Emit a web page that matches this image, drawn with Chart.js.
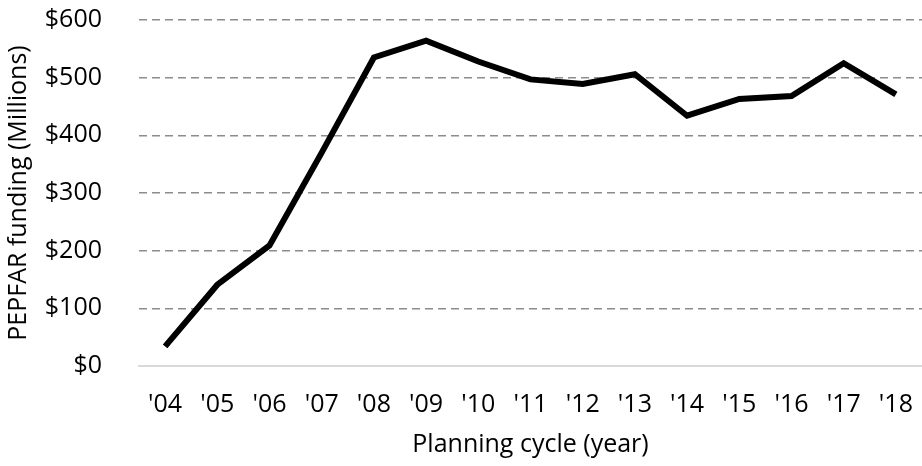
<!DOCTYPE html>
<html>
<head>
<meta charset="utf-8">
<script src="https://cdn.jsdelivr.net/npm/chart.js@4"></script>
<style>
  html, body { margin: 0; padding: 0; background: #fff; }
  #wrap { width: 922px; height: 466px; }
</style>
</head>
<body>
<div id="wrap"><canvas id="fundingChart"></canvas></div>
<script>
// Planning cycles and PEPFAR funding (millions of dollars)
const years = ["'04", "'05", "'06", "'07", "'08", "'09", "'10", "'11", "'12", "'13", "'14", "'15", "'16", "'17", "'18"];
const funding = [34, 141, 209, 370, 535, 564, 528, 497, 489, 506, 434, 463, 468, 525, 471];
const yTicks = [0, 100, 200, 300, 400, 500, 600];

const fontFamily = "'Open Sans', sans-serif";
const tickFont = { family: fontFamily, size: 25 };

new Chart(document.getElementById('fundingChart').getContext('2d'), {
    type: 'line',
    data: {
        labels: years,
        datasets: [{
            label: 'PEPFAR funding',
            data: funding,
            borderColor: '#000000',
            borderWidth: 6,
            pointRadius: 0,
            tension: 0,
            fill: false
        }]
    },
    options: {
        responsive: true,
        maintainAspectRatio: false,
        animation: false,
        layout: { padding: { top: 20, right: 0, left: 0, bottom: 0 } },
        plugins: {
            legend: { display: false },
            tooltip: { enabled: false }
        },
        scales: {
            x: {
                offset: true,
                grid: { display: false, drawTicks: false },
                border: { display: true, color: '#d9d9d9', width: 2 },
                ticks: { color: '#000', font: tickFont, padding: 24, maxRotation: 0, autoSkip: false },
                title: {
                    display: true,
                    text: 'Planning cycle (year)',
                    color: '#000',
                    font: tickFont,
                    padding: { top: 0, bottom: 6 }
                },
                afterFit: (scale) => {
                    scale.height = 100;
                    scale.paddingLeft = 0;
                    scale.paddingRight = 0;
                }
            },
            y: {
                min: 0,
                max: 600,
                afterBuildTicks: (scale) => { scale.ticks = yTicks.map(v => ({ value: v })); },
                grid: {
                    drawTicks: false,
                    color: (ctx) => ctx.tick && ctx.tick.value === 0 ? 'rgba(0,0,0,0)' : '#8c8c8c',
                    lineWidth: 1.5
                },
                border: { display: false, dash: [8, 5] },
                ticks: {
                    color: '#000',
                    font: tickFont,
                    padding: 37,
                    callback: (v) => '$' + v
                },
                title: {
                    display: true,
                    text: 'PEPFAR funding (Millions)',
                    color: '#000',
                    font: tickFont,
                    padding: { top: 4, bottom: 0 }
                },
                afterFit: (scale) => {
                    scale.width = 139;
                    scale.paddingTop = 0;
                    scale.paddingBottom = 0;
                }
            }
        }
    }
});
</script>
</body>
</html>
